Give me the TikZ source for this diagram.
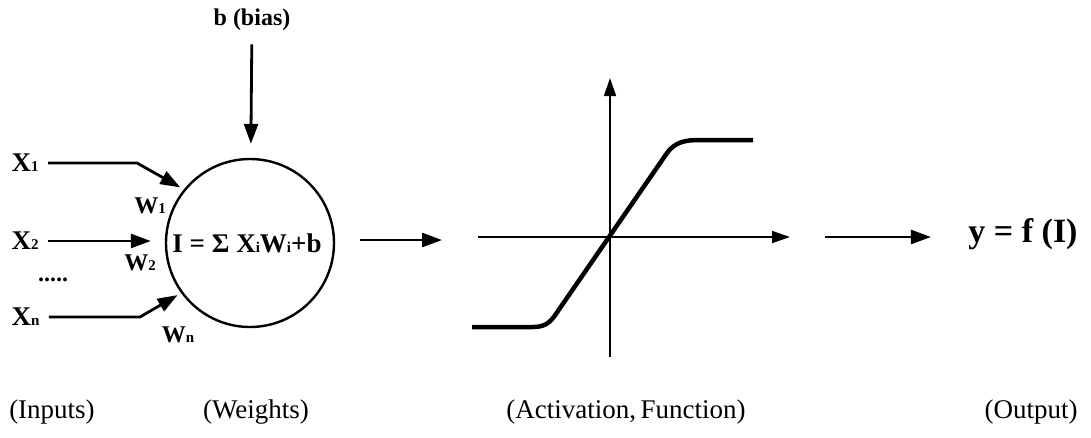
\documentclass[tikz,border=0pt]{standalone}
\usepackage{fontspec}
\setmainfont{Liberation Serif}
\usetikzlibrary{arrows.meta,positioning,calc}

% small index letter sitting on the baseline
\newcommand{\ix}[1]{{\fontsize{15}{15}\selectfont #1}}

\begin{document}
\begin{tikzpicture}[x=1pt,y=-1pt,
  font=\bfseries\fontsize{24}{26}\selectfont,
  arr/.style={-{Triangle[length=20pt,width=14pt]},line width=2.8pt},
  ax/.style={-{Triangle[length=18pt,width=12pt]},line width=1.6pt},
  xl/.style={font=\bfseries\fontsize{27}{29}\selectfont},
  wt/.style={font=\bfseries\fontsize{24}{26}\selectfont},
  capt/.style={font=\fontsize{27}{29}\selectfont}
]
\useasboundingbox (0,0) rectangle (1091,437);

% neuron
\node[circle,draw,line width=2.4pt,minimum size=168pt,inner sep=0pt] (nrn) at (250,243) {};
\node[font=\bfseries\fontsize{27}{29}\selectfont] (sum) at (247,243) {I = Σ X\ix{i}W\ix{i}+b};
\node (bias) at (252,20) {b (bias)};
\draw[arr,shorten <=10pt,shorten >=14pt] (bias) -- (nrn);

% inputs
\node[xl,anchor=west] (x1) at (8,163) {X\ix{1}};
\node[xl,anchor=west] (x2) at (8,241) {X\ix{2}};
\node[xl,anchor=west] (xn) at (8,317) {X\ix{n}};
\node (dots) at (53,280) {.....};
\coordinate (k1) at (137,163);
\coordinate (kn) at (140,317);
\draw[arr,shorten <=6pt,shorten >=4pt] (x1) -- (k1) -- (nrn.141);
\draw[arr,shorten <=6pt,shorten >=14pt] (x2) -- (x2 -| nrn.west);
\draw[arr,shorten <=6pt,shorten >=4pt] (xn) -- (kn) -- (nrn.216);
\node[wt] (w1) at (150,206) {W\ix{1}};
\node[wt] (w2) at (140,263) {W\ix{2}};
\node[wt] (wn) at (178,335) {W\ix{n}};

% activation function
\coordinate (o) at (610,237);
\coordinate (ain) at (442,240);
\draw[arr,shorten <=25pt] (nrn.east |- ain) -- (ain);
\draw[ax] (478,237) -- (790,237);
\draw[ax] (610,357) -- (610,78);
\draw[line width=4.5pt]
  (472,327) -- (533,327) .. controls (548,327) and (552,320) .. (560,308)
  -- (667,153) .. controls (675,142) and (685,140) .. (700,140) -- (753,140);

% output
\coordinate (aout) at (825,237);
\node[font=\bfseries\fontsize{34}{36}\selectfont] (out) at (1023,234) {y = f (I)};
\draw[arr,shorten >=34pt] (aout) -- (aout -| out.west);

% captions
\node[capt] (cin) at (52,412) {(Inputs)};
\node[capt] (cwt) at (256,412) {(Weights)};
\node[capt] (cact) at (626,412) {(Activation,\,Function)};
\node[capt] (cout) at (1031,412) {(Output)};
\end{tikzpicture}
\end{document}
